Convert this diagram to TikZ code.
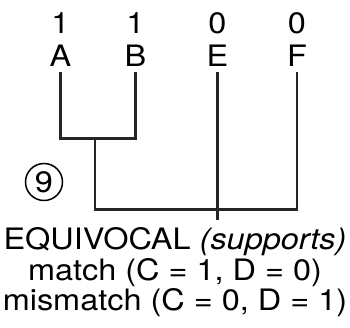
\documentclass[tikz,border=0pt]{standalone}
\usepackage{fontspec}
\setmainfont{TeX Gyre Heros}[FakeStretch=1.1]
\begin{document}
\begin{tikzpicture}[x=1pt,y=-1pt,
  lbl/.style={anchor=base,inner sep=0pt,font=\fontsize{29.5}{34}\selectfont},
  branch/.style={line width=2.2pt,line cap=rect,black!85}]
\useasboundingbox (0,0) rectangle (350,327);
% states
\node[lbl] (sA) at (60.5,33) {1};
\node[lbl] (sB) at (135.5,33) {1};
\node[lbl] (sE) at (217.5,33) {0};
\node[lbl] (sF) at (297,33) {0};
% taxa
\node[lbl] (A) at (60.5,66) {A};
\node[lbl] (B) at (135.5,66) {B};
\node[lbl] (E) at (217.5,66) {E};
\node[lbl] (F) at (297,66) {F};
% tree
\coordinate (ab) at (95,138.5);
\coordinate (root) at (217.5,202.5);
\coordinate (stem) at (217.5,219);
\draw[branch] ([yshift=-7pt]A.base) |- (ab) -| ([yshift=-7pt]B.base);
\draw[branch] (ab) |- ([yshift=-7pt]F.base |- root) -- ([yshift=-7pt]F.base);
\draw[branch] ([yshift=-7pt]E.base) -- (root) -- (stem);
% number
\node[circle,draw,line width=1.5pt,minimum size=37pt,inner sep=0pt,
  font=\fontsize{29.5}{34}\selectfont] (num) at (44,182) {9};
% caption
\node[lbl] (t1) at (175,249) {EQUIVOCAL \textit{(supports)}};
\node[lbl] (t2) at (175,280) {match (C = 1, D = 0)};
\node[lbl] (t3) at (175,310.5) {mismatch (C = 0, D = 1)};
\end{tikzpicture}
\end{document}
